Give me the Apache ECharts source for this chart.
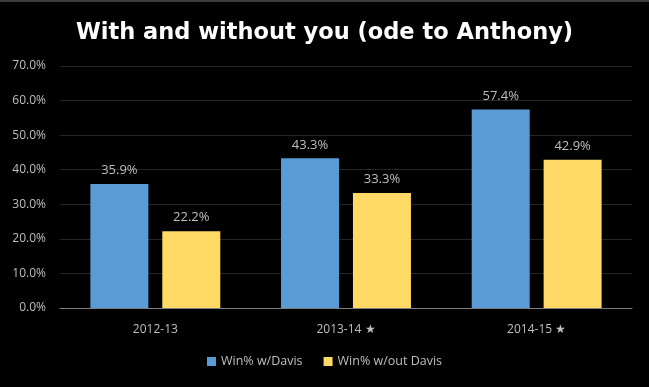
<!DOCTYPE html>
<html><head><meta charset="utf-8">
<script src="https://cdn.jsdelivr.net/npm/echarts@6/dist/echarts.min.js"></script>
<style>html,body{margin:0;padding:0;background:#000;}#c{width:649px;height:387px;}</style>
</head><body><div id="c"></div>
<script>
const categories = ['2012-13', '2013-14 ★', '2014-15 ★'];
const withDavis = [35.9, 43.3, 57.4];
const withoutDavis = [22.2, 33.3, 42.9];
const seriesNames = ['Win% w/Davis', 'Win% w/out Davis'];
const titleText = 'With and without you (ode to Anthony)';

const chart = echarts.init(document.getElementById('c'));
const labelCfg = {show: true, position: 'top', distance: 7, color: '#bfbfbf', fontSize: 13,
  fontFamily: 'Open Sans', formatter: p => p.value.toFixed(1) + '%'};
chart.setOption({
  backgroundColor: '#000',
  animation: false,
  graphic: [{type: 'rect', shape: {x: 0, y: 0, width: 649, height: 2}, style: {fill: '#3c3c3c'}}],
  title: {text: titleText, left: 'center', top: 17,
    textStyle: {color: '#fff', fontSize: 22.5, fontWeight: 'bold', fontFamily: 'DejaVu Sans'}},
  legend: {bottom: 14, left: 'center', itemWidth: 9, itemHeight: 9, itemGap: 21,
    icon: 'rect', textStyle: {color: '#bfbfbf', fontSize: 12.5, fontFamily: 'Open Sans'}},
  grid: {left: 60, right: 17, top: 66, bottom: 79},
  xAxis: {type: 'category', data: categories,
    axisLine: {lineStyle: {color: '#7f7f7f', width: 1}},
    axisTick: {show: false},
    axisLabel: {color: '#bfbfbf', fontSize: 12, fontFamily: 'Open Sans', margin: 16}},
  yAxis: {type: 'value', min: 0, max: 70, interval: 10,
    axisLine: {show: false}, axisTick: {show: false},
    splitLine: {lineStyle: {color: '#262626'}},
    axisLabel: {color: '#bfbfbf', fontSize: 12, fontFamily: 'Open Sans', margin: 14,
      formatter: v => v.toFixed(1) + '%'}},
  series: [
    {name: seriesNames[0], type: 'bar', data: withDavis, barWidth: 58, barGap: '24%',
      itemStyle: {color: '#5B9BD5'}, label: labelCfg},
    {name: seriesNames[1], type: 'bar', data: withoutDavis, barWidth: 58,
      itemStyle: {color: '#FFD966'}, label: labelCfg}
  ]
});
</script></body></html>
